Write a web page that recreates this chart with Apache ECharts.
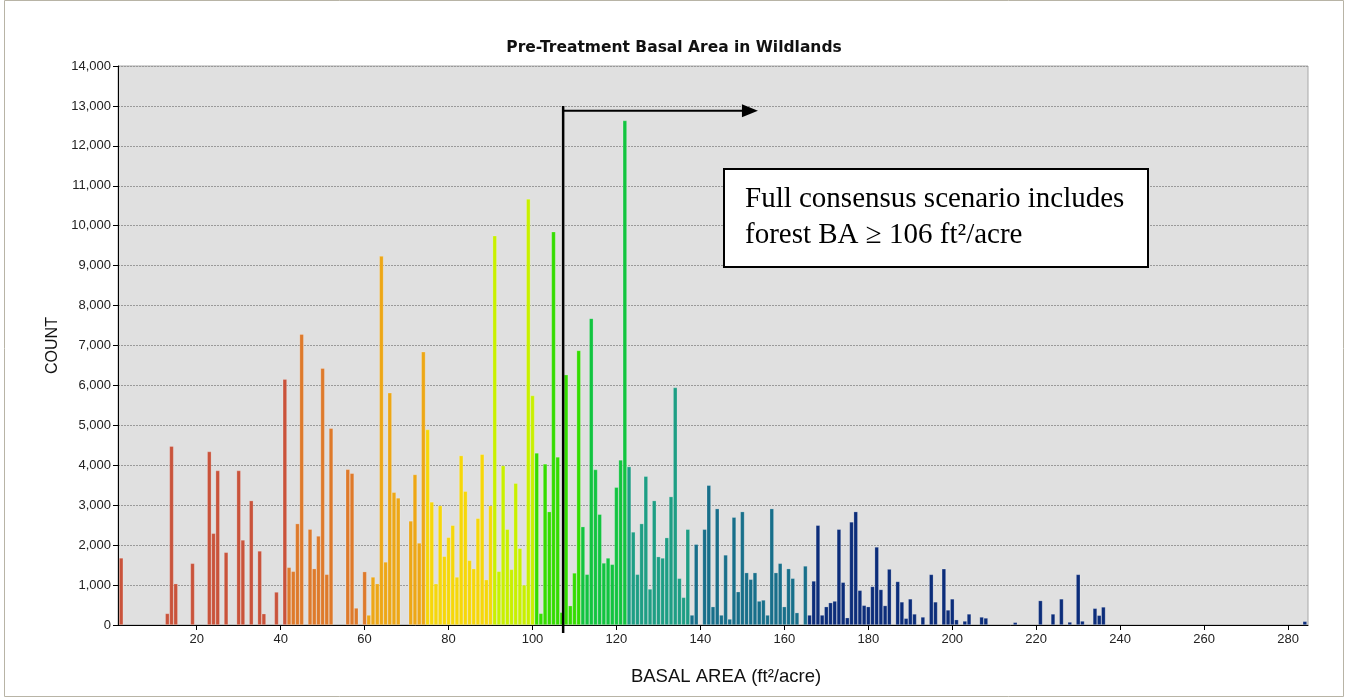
<!DOCTYPE html>
<html><head><meta charset="utf-8">
<script src="https://cdn.jsdelivr.net/npm/echarts@6/dist/echarts.min.js"></script>
<style>html,body{margin:0;padding:0;background:#fff}#c{width:1348px;height:700px}</style>
</head><body><div id="c"></div>
<script>
// ---- data ----
const chartTitle = 'Pre-Treatment Basal Area in Wildlands';
const xAxisTitle = 'BASAL AREA (ft\u00B2/acre)';
const yAxisTitle = 'COUNT';
const basalArea = [2,13,14,15,19,23,24,25,27,30,31,33,35,36,39,41,42,43,44,45,47,48,49,50,51,52,56,57,58,60,
  61,62,63,64,65,66,67,68,71,72,73,74,75,76,77,78,79,80,81,82,83,84,85,86,87,88,89,90,
  91,92,93,94,95,96,97,98,99,100,101,102,103,104,105,106,107,108,109,110,111,112,113,114,115,116,117,118,119,120,121,122,
  123,124,125,126,127,128,129,130,131,132,133,134,135,136,137,138,139,141,142,143,144,145,146,147,148,149,150,
  151,152,153,154,155,156,157,158,159,160,161,162,163,165,166,167,168,169,170,171,172,173,174,175,176,177,178,179,180,
  181,182,183,184,185,187,188,189,190,191,193,195,196,198,199,200,201,203,204,207,208,215,221,224,226,228,230,231,234,235,236,284];
const counts = [1680,290,4480,1036,1545,4344,2297,3868,1821,3868,2130,3116,1855,284,827,6157,1445,1345,2540,7285,2400,1412,2230,6432,1270,4928,3900,3800,426,1337,
  250,1203,1036,9240,1580,5815,3325,3183,2607,3770,2055,6842,4895,3083,1036,2991,1721,2197,2498,1203,4244,3350,1620,1412,2673,4277,1136,2991,
  9750,1345,3993,2398,1395,3550,1921,1003,10670,5748,4311,292,4035,2840,9850,4210,318,6270,485,1304,6876,2464,1270,7680,3893,2774,1554,1679,1520,3450,4135,12635,
  3968,2331,1270,2540,3726,902,3116,1713,1679,2189,3216,5948,1170,693,2398,250,2022,2398,3500,460,2915,250,1755,150,2700,835,2840,
  1312,1145,1312,600,627,250,2915,1312,1545,460,1412,1170,310,1479,250,1103,2498,250,460,560,600,2398,1070,184,2582,2840,869,493,460,
  965,1955,889,487,1401,1090,579,168,654,277,201,1267,579,1409,377,654,134,100,277,201,176,67,612,277,654,75,1267,100,418,243,452,92];
const xTicks = [20,40,60,80,100,120,140,160,180,200,220,240,260,280];
// colour classes: upper bound of each basal-area class and its colour
const classUpperBounds = [41,60,74,90,100,111,122,137,165,284];
const classColors = ['#C9533B','#DE7A2B','#EDA716','#F6D70A','#C8F000','#34DC00','#12C440','#1E9E84','#186F8A','#0C2D7A'];
// annotation
const thresholdX = 107.3;
const arrowTopValue = 13000;
const arrowValue = 12880;
const arrowEndX = 153.7;
const noteLines = ['Full consensus scenario includes', 'forest BA \u2265 106 ft\u00B2/acre'];

function classColor(v){
  for (let i=0;i<classUpperBounds.length;i++) if (v<=classUpperBounds[i]) return classColors[i];
  return classColors[classColors.length-1];
}
function fmt(v){ return String(v).replace(/\B(?=(\d{3})+(?!\d))/g, ','); }

const chart = echarts.init(document.getElementById('c'), null, {renderer:'canvas'});
const seriesData = basalArea.map((x,i)=>[x, counts[i]]);
const axisFont = 'Liberation Sans, Arial, sans-serif';

chart.setOption({
  animation:false,
  backgroundColor:'#ffffff',
  title:{ text: chartTitle, left:'center', top:35,
    textStyle:{fontFamily:'DejaVu Sans, Verdana, sans-serif', fontWeight:'bold', fontSize:15.5, color:'#111'} },
  grid:{ left:118, right:40, top:66, bottom:75, show:true, backgroundColor:'#E0E0E0', borderColor:'#A8A8A8', borderWidth:1 },
  xAxis:{ type:'value', min:1.25, max:284.75,
    name:xAxisTitle, nameLocation:'middle', nameGap:42,
    nameTextStyle:{fontFamily:axisFont, fontSize:18.5, color:'#111', padding:[0,0,0,26]},
    axisLine:{show:true, onZero:false, lineStyle:{color:'#000', width:1}},
    axisTick:{show:true, customValues:xTicks, length:5, lineStyle:{color:'#000'}},
    axisLabel:{customValues:xTicks, fontFamily:axisFont, fontSize:13, color:'#222', margin:8},
    splitLine:{show:false} },
  yAxis:{ type:'value', min:0, max:14000, interval:1000,
    name:yAxisTitle, nameLocation:'middle', nameGap:46, nameRotate:90,
    nameTextStyle:{fontFamily:axisFont, fontSize:16, color:'#111'},
    axisLine:{show:true, lineStyle:{color:'#000', width:1}},
    axisTick:{show:true, length:5, lineStyle:{color:'#000'}},
    axisLabel:{fontFamily:axisFont, fontSize:13, color:'#222', margin:7, formatter:fmt},
    splitLine:{show:true, lineStyle:{color:'#9A9A9A', type:[2,1], width:1}} },
  series:[{
    type:'bar', data:seriesData, barWidth:4.2,
    itemStyle:{ color:(p)=>classColor(p.data[0]), borderColor:'rgba(255,255,255,0.35)', borderWidth:0.6 }
  }]
});

// annotation positioned via the grid's own scales
const pTop = chart.convertToPixel({gridIndex:0},[thresholdX, arrowTopValue]);
const pBase = chart.convertToPixel({gridIndex:0},[thresholdX, 0]);
const pArr0 = chart.convertToPixel({gridIndex:0},[thresholdX, arrowValue]);
const pArr1 = chart.convertToPixel({gridIndex:0},[arrowEndX, arrowValue]);
const noteFont = '29px "Liberation Serif", "Times New Roman", serif';
chart.setOption({ graphic:[
  {type:'rect', shape:{x:4.5,y:0.5,width:1339,height:696}, style:{fill:'none', stroke:'#B8B4A6', lineWidth:1}, silent:true},
  {type:'line', shape:{x1:pTop[0],y1:pTop[1],x2:pBase[0],y2:pBase[1]+8}, style:{stroke:'#000', lineWidth:2.5}, z:100},
  {type:'line', shape:{x1:pArr0[0],y1:pArr0[1],x2:pArr1[0]-14,y2:pArr1[1]}, style:{stroke:'#000', lineWidth:2}, z:100},
  {type:'polygon', shape:{points:[[pArr1[0],pArr1[1]],[pArr1[0]-16,pArr1[1]-6.5],[pArr1[0]-16,pArr1[1]+6.5]]}, style:{fill:'#000'}, z:100},
  {type:'rect', shape:{x:724,y:169,width:424,height:98}, style:{fill:'#fff', stroke:'#000', lineWidth:2}, z:100},
  {type:'text', left:745, top:185, z:101, style:{text:noteLines[0], font:noteFont, fill:'#000'}},
  {type:'text', left:745, top:221, z:101, style:{text:noteLines[1], font:noteFont, fill:'#000'}}
]});
</script></body></html>
